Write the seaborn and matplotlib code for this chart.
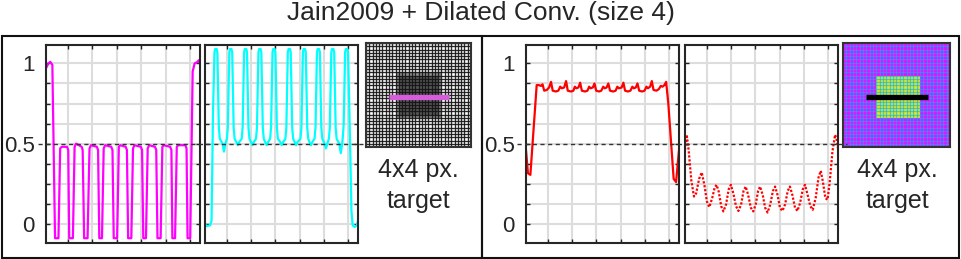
import numpy as np
import pandas as pd
import matplotlib.pyplot as plt
import seaborn as sns
from matplotlib.colors import ListedColormap
from matplotlib.lines import Line2D
from matplotlib.patches import Rectangle
from matplotlib.transforms import blended_transform_factory

# ---- data ----
title = 'Jain2009 + Dilated Conv. (size 4)'
target_text = ['4x4 px.', 'target']
xticks = [10, 20, 30, 40, 50, 60]
yticks = [0, 0.125, 0.25, 0.375, 0.5, 0.625, 0.75, 0.875, 1]
ytick_labels = ['0', '', '', '', '0.5', '', '', '', '1']

# magenta profile (left panel)
mag_x = [1, 2, 2.8, 3.6, 4.7, 6.1,
         6.8, 7.4, 9.6, 10.1, 10.5, 12.0,
         12.7, 13.3, 15.6, 16.0, 16.6, 18.0,
         18.8, 19.4, 21.8, 22.3, 22.8, 23.9,
         24.6, 25.2, 27.7, 28.2, 28.7, 30.1,
         30.8, 31.4, 33.6, 34.1, 34.6, 35.9,
         36.6, 37.2, 39.8, 40.3, 40.8, 41.9,
         42.6, 43.2, 45.6, 46.1, 46.6, 47.9,
         48.6, 49.2, 51.8, 52.3, 52.7, 53.8,
         54.5, 55.1, 58.0, 58.5, 58.9, 60.0,
         61.0, 61.8, 63.0, 63.5, 64]
mag_y = [0.97, 1.0, 1.01, 0.99, -0.09, -0.09,
         0.47, 0.48, 0.48, 0.46, -0.09, -0.09,
         0.48, 0.50, 0.48, 0.46, -0.09, -0.09,
         0.47, 0.49, 0.48, 0.46, -0.09, -0.09,
         0.47, 0.49, 0.48, 0.46, -0.09, -0.09,
         0.48, 0.49, 0.48, 0.46, -0.09, -0.09,
         0.47, 0.49, 0.48, 0.46, -0.09, -0.09,
         0.47, 0.49, 0.48, 0.46, -0.09, -0.09,
         0.48, 0.49, 0.48, 0.46, -0.09, -0.09,
         0.48, 0.49, 0.49, 0.47, -0.09, -0.09,
         0.95, 1.0, 1.01, 1.02, 1.0]

# cyan profile (second panel)
cyan_x = [1, 1.6, 3.1, 3.7, 4.3,
          4.9, 5.2, 5.8, 6.1, 6.7, 7.1, 8.2, 8.8, 9.4, 10.0, 10.4,
          11.0, 11.3, 11.9, 12.2, 12.8, 13.2, 13.9, 14.5, 15.1, 16.1, 16.5,
          17.1, 17.4, 18.0, 18.3, 18.9, 19.3, 19.9, 20.5, 21.1, 22.0, 22.4,
          23.0, 23.3, 23.9, 24.2, 24.8, 25.2, 25.8, 26.4, 27.0, 27.8, 28.2,
          28.8, 29.1, 29.7, 30.0, 30.6, 31.0, 32.0, 32.6, 33.2, 34.1, 34.5,
          35.1, 35.4, 36.0, 36.3, 36.9, 37.3, 37.9, 38.5, 39.1, 40.3, 40.7,
          41.3, 41.6, 42.2, 42.5, 43.1, 43.5, 44.0, 44.6, 45.2, 46.1, 46.5,
          47.1, 47.4, 48.0, 48.3, 48.9, 49.3, 50.2, 50.8, 51.4, 52.0, 52.4,
          53.0, 53.3, 53.9, 54.2, 54.8, 55.2, 56.3, 56.9, 57.5, 57.8, 58.1,
          58.7, 59.0, 59.6, 59.9,
          60.6, 61.3, 61.8, 62.6, 63.5, 64]
cyan_y = [0.0, -0.015, -0.01, 0.02, 0.7,
          1.07, 1.09, 1.09, 1.07, 0.6, 0.53, 0.50, 0.45, 0.50, 0.53, 0.6,
          1.07, 1.09, 1.09, 1.07, 0.6, 0.53, 0.51, 0.49, 0.51, 0.53, 0.6,
          1.07, 1.09, 1.09, 1.07, 0.6, 0.53, 0.51, 0.49, 0.51, 0.53, 0.6,
          1.07, 1.09, 1.09, 1.07, 0.6, 0.53, 0.51, 0.49, 0.51, 0.53, 0.6,
          1.07, 1.09, 1.09, 1.07, 0.6, 0.53, 0.51, 0.49, 0.51, 0.53, 0.6,
          1.07, 1.09, 1.09, 1.07, 0.6, 0.53, 0.51, 0.49, 0.51, 0.53, 0.6,
          1.07, 1.09, 1.09, 1.07, 0.6, 0.53, 0.51, 0.49, 0.51, 0.53, 0.6,
          1.07, 1.09, 1.09, 1.07, 0.6, 0.53, 0.50, 0.47, 0.50, 0.53, 0.6,
          1.07, 1.09, 1.09, 1.07, 0.6, 0.53, 0.50, 0.44, 0.50, 0.55, 0.62,
          1.07, 1.09, 1.09, 1.07,
          0.6, 0.08, -0.01, -0.02, -0.01, 0.02]

# red solid profile (third panel)
red_x = [1, 1.8, 2.8, 5.4, 6.2, 7.2, 7.8, 8.5, 9.6, 10.5,
         11.3, 12.0, 13.3, 14.3, 15.1, 15.7, 16.7,
         17.5, 18.2, 19.5, 20.5, 21.1, 21.7, 22.6,
         23.3, 24.0, 25.3, 26.3, 27.0, 27.6, 28.5,
         29.2, 29.9, 31.1, 32.0, 32.8, 33.4, 34.2,
         34.9, 35.6, 36.9, 37.9, 38.6, 39.2, 40.4,
         41.1, 41.8, 43.0, 44.0, 44.8, 45.4, 46.2,
         46.9, 47.6, 48.8, 49.8, 50.6, 51.2, 52.1,
         52.8, 53.5, 54.7, 55.7, 56.5, 57.2, 58.0,
         58.7, 59.6, 61.8, 62.8, 64]
red_y = [0.46, 0.315, 0.305, 0.865, 0.865, 0.86, 0.87, 0.83, 0.835, 0.85,
         0.885, 0.83, 0.825, 0.83, 0.855, 0.845, 0.85,
         0.89, 0.83, 0.825, 0.83, 0.855, 0.845, 0.85,
         0.88, 0.83, 0.825, 0.83, 0.855, 0.845, 0.85,
         0.875, 0.83, 0.825, 0.83, 0.855, 0.845, 0.85,
         0.875, 0.83, 0.825, 0.83, 0.855, 0.845, 0.85,
         0.88, 0.83, 0.825, 0.83, 0.855, 0.845, 0.85,
         0.875, 0.83, 0.825, 0.83, 0.855, 0.845, 0.855,
         0.89, 0.835, 0.83, 0.84, 0.86, 0.855, 0.865,
         0.885, 0.75, 0.28, 0.26, 0.46]

# red dotted profile (fourth panel)
dot_x = [1, 1.7, 2.5, 3.6, 4.7, 5.6, 6.8, 7.9,
         9.0, 10.0, 11.0, 12.2, 13.2, 14.0,
         14.9, 15.9, 16.8, 17.9, 19.0, 19.9,
         20.9, 22.0, 23.0, 24.1, 25.1, 26.0,
         27.0, 28.1, 29.1, 30.1, 31.1, 31.9,
         33.0, 34.0, 35.0, 36.1, 37.2, 38.1,
         39.1, 40.1, 41.1, 42.2, 43.3, 44.2,
         45.2, 46.3, 47.3, 48.4, 49.5, 50.4,
         51.5, 52.6, 53.6, 54.8, 56.0, 56.9,
         57.8, 58.8, 59.7, 60.6, 61.7, 62.8,
         63.4, 64]
dot_y = [0.46, 0.555, 0.46, 0.27, 0.17, 0.19, 0.28, 0.32,
         0.24, 0.14, 0.104, 0.16, 0.225, 0.243,
         0.20, 0.11, 0.077, 0.12, 0.215, 0.243,
         0.19, 0.11, 0.08, 0.12, 0.205, 0.232,
         0.18, 0.10, 0.077, 0.12, 0.205, 0.232,
         0.18, 0.10, 0.07, 0.12, 0.205, 0.232,
         0.18, 0.10, 0.08, 0.12, 0.205, 0.232,
         0.18, 0.10, 0.08, 0.13, 0.215, 0.243,
         0.18, 0.11, 0.087, 0.16, 0.29, 0.33,
         0.26, 0.16, 0.15, 0.26, 0.45, 0.555,
         0.53, 0.47]

# target images: 32x32 cells, target block and profile line (cell units)
n_cells = 32
left_block = (9, 23)
left_core = (10, 22)
right_block = (10, 23)
line_row = 16.5
line_cols = [7.0, 25.3]

# ---- figure ----
sns.set_theme(style='white')
plt.rcParams['font.family'] = ['Liberation Sans', 'DejaVu Sans']

W, H = 962, 259
fig = plt.figure(figsize=(W / 100, H / 100), dpi=100)


def px_rect(x0, y0, x1, y1):
    return [x0 / W, 1 - y1 / H, (x1 - x0) / W, (y1 - y0) / H]


def profile(rect, xs, ys, color, style, labels):
    ax = fig.add_axes(rect)
    df = pd.DataFrame({'x': xs, 'y': ys})
    sns.lineplot(data=df, x='x', y='y', ax=ax, color=color, linewidth=1.6,
                 linestyle=style, estimator=None, sort=False)
    ax.set_xlim(1, 64)
    ax.set_ylim(-0.12, 1.115)
    ax.set_xticks(xticks)
    ax.set_yticks(yticks)
    ax.set_xticklabels([])
    ax.set_yticklabels(ytick_labels if labels else [])
    ax.set_xlabel('')
    ax.set_ylabel('')
    ax.tick_params(direction='in', length=3, width=1, color='#222222',
                   top=True, right=True, left=True, bottom=True,
                   labelsize=16, pad=8)
    ax.grid(True, color='#dddddd', linewidth=1.5)
    ax.set_axisbelow(True)
    for s in ax.spines.values():
        s.set_color('#262626')
        s.set_linewidth(1.5)
    return ax


def target_image(rect, arr, cmap, gridcolor, mark_color):
    ax = fig.add_axes(rect)
    sns.heatmap(arr, ax=ax, cmap=cmap, vmin=0, vmax=1, cbar=False,
                linewidths=0, xticklabels=False, yticklabels=False)
    # pixel borders
    edges = np.arange(arr.shape[0] + 1)
    ax.vlines(edges, 0, arr.shape[0], colors=[gridcolor], linewidth=0.95)
    ax.hlines(edges, 0, arr.shape[1], colors=[gridcolor], linewidth=0.95)
    ax.plot(line_cols, [line_row, line_row], color=mark_color, linewidth=3.8,
            solid_capstyle='butt')
    for s in ax.spines.values():
        s.set_visible(True)
        s.set_color('#333333')
        s.set_linewidth(1.5)
    return ax


ax1 = profile(px_rect(46, 45, 200, 243), mag_x, mag_y, '#ff00ff', '-', True)
ax2 = profile(px_rect(205, 45, 358, 243), cyan_x, cyan_y, '#00ffff', '-', False)
ax3 = profile(px_rect(526, 45, 679, 243), red_x, red_y, '#ff0000', '-', True)
ax4 = profile(px_rect(685, 45, 838, 243), dot_x, dot_y, '#ff0000', (0, (1, 0.8)), False)

# left target: white cells, grey block
img_l = np.ones((n_cells, n_cells))
img_l[left_block[0]:left_block[1], left_block[0]:left_block[1]] = 0.55
img_l[left_core[0]:left_core[1], left_core[0]:left_core[1]] = 0.35
target_image(px_rect(366, 43, 471, 147), img_l, 'gray', (0.08, 0.08, 0.08, 0.9), '#d65cd9')

# right target: magenta cells, yellow block
img_r = np.zeros((n_cells, n_cells))
img_r[right_block[0]:right_block[1], right_block[0]:right_block[1]] = 1
target_image(px_rect(843, 43, 950, 147), img_r,
             ListedColormap(['#ff00ff', '#e6e61a']), (0.0, 0.7, 1.0, 0.6), 'black')

# dashed 0.5 reference across each group
for ax, (xa, xb) in [(ax1, (38, 366)), (ax3, (517, 847))]:
    tr = blended_transform_factory(fig.transFigure, ax.transData)
    fig.add_artist(Line2D([xa / W, xb / W], [0.5, 0.5], transform=tr,
                          color='#333333', linewidth=1, linestyle=(0, (3, 2.5))))

# group boxes
fig.add_artist(Rectangle((2 / W, 1 / H), 480 / W, 222 / H, transform=fig.transFigure,
                         fill=False, edgecolor='#111111', linewidth=1.5))
fig.add_artist(Rectangle((482 / W, 1 / H), 477 / W, 222 / H, transform=fig.transFigure,
                         fill=False, edgecolor='#111111', linewidth=1.5))

for cx in [418, 897]:
    fig.text(cx / W, 1 - 170 / H, target_text[0], ha='center', va='center', fontsize=18)
    fig.text(cx / W, 1 - 201 / H, target_text[1], ha='center', va='center', fontsize=18)

fig.text(0.5, 1 - 13 / H, title, ha='center', va='center', fontsize=19)

fig.savefig('out.png', dpi=100)
